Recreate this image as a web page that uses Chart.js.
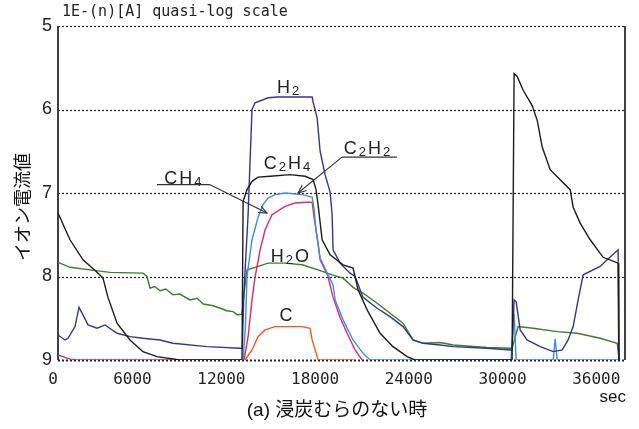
<!DOCTYPE html>
<html><head><meta charset="utf-8">
<script src="https://cdn.jsdelivr.net/npm/chart.js@4.4.1/dist/chart.umd.min.js"></script>
<style>html,body{margin:0;padding:0;background:#fff}canvas{display:block}</style>
</head><body>
<canvas id="c" width="639" height="429"></canvas>
<script>
// ---- tick labels ----
const xTicks = [0, 6000, 12000, 18000, 24000, 30000, 36000];
const yTicks = [5, 6, 7, 8, 9];

// ---- series (x: sec, y: n in 1E-(n) A) ----
const c2h4X = [0,768,1600,2500,2880,3200,3780,4610,5440,6340,7810, 11780,11850,12100,12420,12810,13580,14860,15820,16330,16520,16650,16910,17420,18250,18890,19210,19790,20620,21450,22350,22860, 29000,29070,29200,29390,29780,30350,30680,31000,31510,32150,32790,32980,33430,34070,34900,35860,35900];
const c2h4Y = [7.24,7.56,7.80,7.95,8.02,8.25,8.56,8.76,8.90,8.96,9.0, 9.0,7.10,6.96,6.86,6.81,6.80,6.78,6.80,6.84,6.96,7.14,7.56,7.74,7.86,7.90,8.16,8.40,8.68,8.84,8.96,9.0, 9.0,9.0,5.57,5.60,5.77,5.95,6.13,6.45,6.72,6.84,6.96,7.17,7.36,7.56,7.77,7.84,9.0];

const h2X = [0,450,640,1090,1345,1600,1920,2500,3010,3780,4610,5440,6530,7360,9540,11650,11800,11900,12170,12420,12620,13450,14090,16270,16330,16590,16780,17100,17420,17550,17610,18060,18700,19020,19530,20430,21260,22090,22730,23370,24460,25300,27470,29000,29070,29200,29330,29590,30030,30870,31700,32280,32660,32980,33300,33620,34710,35160,35860,35930];
const h2Y = [8.70,8.76,8.74,8.60,8.37,8.46,8.58,8.62,8.58,8.68,8.72,8.74,8.76,8.80,8.84,8.86,8.86,8.20,7.26,6.00,5.92,5.86,5.85,5.85,5.91,6.10,6.50,6.78,6.99,7.26,7.68,7.84,7.96,8.00,8.25,8.38,8.48,8.60,8.76,8.80,8.82,8.84,8.86,8.88,8.88,8.28,8.30,8.64,8.76,8.84,8.90,8.88,8.76,8.60,8.28,7.98,7.88,7.80,7.68,9.0];

const h2oX = [0,770,2050,3330,5440,5700,5890,6200,6530,6900,7360,7800,8450,8900,9300,9930,10400,10800,11210,11500,11780,11910,12100,12620,13450,14540,15630,16650,17550,18250,18890,19530,20430,21260,22090,22730,23370,24460,25300,27470,29000,29070,29460,30420,31960,33240,34710,35800,35930];
const h2oY = [7.83,7.89,7.92,7.95,7.96,8.00,8.14,8.12,8.17,8.15,8.22,8.21,8.28,8.26,8.33,8.35,8.38,8.41,8.42,8.46,8.45,8.20,7.92,7.89,7.84,7.84,7.86,7.92,7.98,8.02,8.13,8.20,8.32,8.44,8.56,8.76,8.80,8.79,8.82,8.85,8.86,8.86,8.60,8.62,8.66,8.68,8.74,8.80,9.0];

const c2h2X = [11850,12000,12100,12420,12810,13130,13450,13900,14540,15630,16270,16400,16520,16780,17230,17610,17740,18250,18890,19530,19980,29000,29200,29330,31700,31830,31960,36000];
const c2h2Y = [9.0,8.6,8.0,7.56,7.29,7.14,7.06,7.02,7.00,7.02,7.05,7.20,7.45,7.78,7.96,8.10,8.28,8.52,8.76,8.92,9.0,9.0,8.45,9.0,9.0,8.75,9.0,9.0];

const ch4X = [0,320,770,1200,11910,12170,12420,12620,12940,13260,13700,14540,15180,15950,16270,16400,16650,16780,17290,17610,18060,18510,19020,19470];
const ch4Y = [8.94,8.96,8.99,9.0,9.0,8.72,8.28,8.00,7.68,7.44,7.26,7.16,7.12,7.11,7.11,7.30,7.60,7.80,8.00,8.25,8.49,8.68,8.88,9.0];

const cX = [11980,12420,12810,13260,13900,15630,16140,16270,16590,16650,19000];
const cY = [9.0,8.88,8.72,8.64,8.60,8.60,8.62,8.76,8.96,9.0,9.0];

// ---- annotation labels (data coordinates) ----
const labelText = ['H2','C2H4','C2H2','CH4','H2O','C'];
const labelX    = [14725,14660,19780,8000,14850,14600];
const labelY    = [5.73,6.64,6.46,6.81,7.75,8.46];

function pts(xs, ys){ return xs.map((v,i)=>({x:v, y:ys[i]})); }
function ds(label, xs, ys, color){
  return {label, data: pts(xs,ys), borderColor: color, backgroundColor: color,
          borderWidth: 1.4, pointRadius: 0, tension: 0, fill: false};
}

function chem(ctx, s, cx, cy, size){
  const parts = [];
  for (const ch of s) parts.push({ch, sub: /[0-9]/.test(ch)});
  const big = size + 'px "Liberation Sans", Arial, sans-serif';
  const small = Math.round(size*0.7) + 'px "Liberation Sans", Arial, sans-serif';
  const gap = 2;
  let w = 0;
  parts.forEach(p=>{ ctx.font = p.sub ? small : big; p.w = ctx.measureText(p.ch).width; w += p.w + gap; });
  w -= gap;
  let x = cx - w/2;
  const base = cy + size*0.36;
  ctx.textAlign = 'left'; ctx.textBaseline = 'alphabetic';
  parts.forEach(p=>{ ctx.font = p.sub ? small : big; ctx.fillText(p.ch, x, p.sub ? base+2 : base); x += p.w + gap; });
}
function arrowLine(ctx, x1, y1, x2, y2){
  ctx.beginPath(); ctx.moveTo(x1,y1); ctx.lineTo(x2,y2); ctx.stroke();
  const ang = Math.atan2(y2-y1, x2-x1), L = 9, sp = 0.4;
  ctx.beginPath();
  ctx.moveTo(x2 - L*Math.cos(ang-sp), y2 - L*Math.sin(ang-sp));
  ctx.lineTo(x2, y2);
  ctx.lineTo(x2 - L*Math.cos(ang+sp), y2 - L*Math.sin(ang+sp));
  ctx.stroke();
}

const deco = {
  id: 'deco',
  beforeDatasetsDraw(chart){
    const {ctx, chartArea: a, scales: {y}} = chart;
    ctx.save();
    ctx.strokeStyle = '#222';
    ctx.setLineDash([2,2]);
    yTicks.forEach(v=>{
      const py = Math.round(y.getPixelForValue(v)) + 0.5;
      ctx.lineWidth = (v === 9) ? 2 : 1.2;
      ctx.beginPath(); ctx.moveTo(a.left, py); ctx.lineTo(a.right, py); ctx.stroke();
    });
    ctx.setLineDash([]);
    ctx.lineWidth = 1.6; ctx.strokeStyle = '#111';
    [a.left, a.right].forEach(px=>{ ctx.beginPath(); ctx.moveTo(px, a.top); ctx.lineTo(px, a.bottom); ctx.stroke(); });
    ctx.restore();
  },
  afterDatasetsDraw(chart){
    const {ctx, scales: {x, y}} = chart;
    ctx.save();
    ctx.fillStyle = '#222'; ctx.strokeStyle = '#333'; ctx.lineWidth = 1.1;
    labelText.forEach((t,i)=> chem(ctx, t, x.getPixelForValue(labelX[i]), y.getPixelForValue(labelY[i]), 18));
    // C2H2 underline + leader
    let ux1 = x.getPixelForValue(18180), ux2 = x.getPixelForValue(21700), uy = y.getPixelForValue(6.57);
    ctx.beginPath(); ctx.moveTo(ux1, uy); ctx.lineTo(ux2, uy); ctx.stroke();
    arrowLine(ctx, ux1, uy, x.getPixelForValue(15365), y.getPixelForValue(7.0));
    // CH4 underline + leader
    ux1 = x.getPixelForValue(6340); ux2 = x.getPixelForValue(9730); uy = y.getPixelForValue(6.90);
    ctx.beginPath(); ctx.moveTo(ux1, uy); ctx.lineTo(ux2, uy); ctx.stroke();
    arrowLine(ctx, ux2, uy, x.getPixelForValue(13380), y.getPixelForValue(7.24));
    ctx.restore();
  },
  afterDraw(chart){
    const {ctx} = chart;
    ctx.save();
    ctx.fillStyle = '#222';
    ctx.font = '15px "DejaVu Sans Mono", monospace';
    ctx.textAlign = 'left'; ctx.textBaseline = 'middle';
    ctx.fillText('1E-(n)[A] quasi-log scale', 62, 12);
    ctx.fillStyle = '#111';
    ctx.font = '17px "Liberation Sans", Arial, sans-serif';
    ctx.textAlign = 'right';
    ctx.fillText('sec', 626, 397);
    ctx.font = '19px "Liberation Sans", "Noto Sans CJK JP", sans-serif';
    ctx.textAlign = 'center';
    ctx.fillText('(a) 浸炭むらのない時', 337, 411);
    ctx.translate(22, 207); ctx.rotate(-Math.PI/2);
    ctx.font = '18px "Noto Sans CJK JP", sans-serif';
    ctx.fillText('イオン電流値', 0, 0);
    ctx.restore();
  }
};

new Chart(document.getElementById('c'), {
  type: 'line',
  data: { datasets: [
    ds('C2H4', c2h4X, c2h4Y, '#1c1c1c'),
    ds('H2',   h2X,   h2Y,   '#34358f'),
    ds('C2H2', c2h2X, c2h2Y, '#3b8fe0'),
    ds('CH4',  ch4X,  ch4Y,  '#e2286e'),
    ds('H2O',  h2oX,  h2oY,  '#3f7d2c'),
    ds('C',    cX,    cY,    '#f25a1e')
  ]},
  options: {
    responsive: false, animation: false, devicePixelRatio: 1,
    layout: { padding: { left: 0, right: 14, top: 26, bottom: 39 } },
    plugins: { legend: { display: false }, tooltip: { enabled: false } },
    scales: {
      x: {
        type: 'linear', min: 0, max: 36300,
        afterBuildTicks: s => { s.ticks = xTicks.map(v=>({value: v})); },
        afterFit: s => { s.height = 30; },
        grid: { display: false, drawTicks: false },
        border: { display: false },
        ticks: { align: 'end', padding: 10, color: '#222', autoSkip: false, maxRotation: 0,
                 font: { family: '"DejaVu Sans Mono", monospace', size: 16 },
                 callback: v => String(v) }
      },
      y: {
        type: 'linear', min: 5, max: 9, reverse: true,
        afterBuildTicks: s => { s.ticks = yTicks.map(v=>({value: v})); },
        afterFit: s => { s.width = 58; },
        grid: { display: false, drawTicks: false },
        border: { display: false },
        ticks: { padding: 6, color: '#222',
                 font: { family: '"Liberation Sans", Arial, sans-serif', size: 18 },
                 callback: v => String(v) }
      }
    }
  },
  plugins: [deco]
});
</script>
</body></html>
